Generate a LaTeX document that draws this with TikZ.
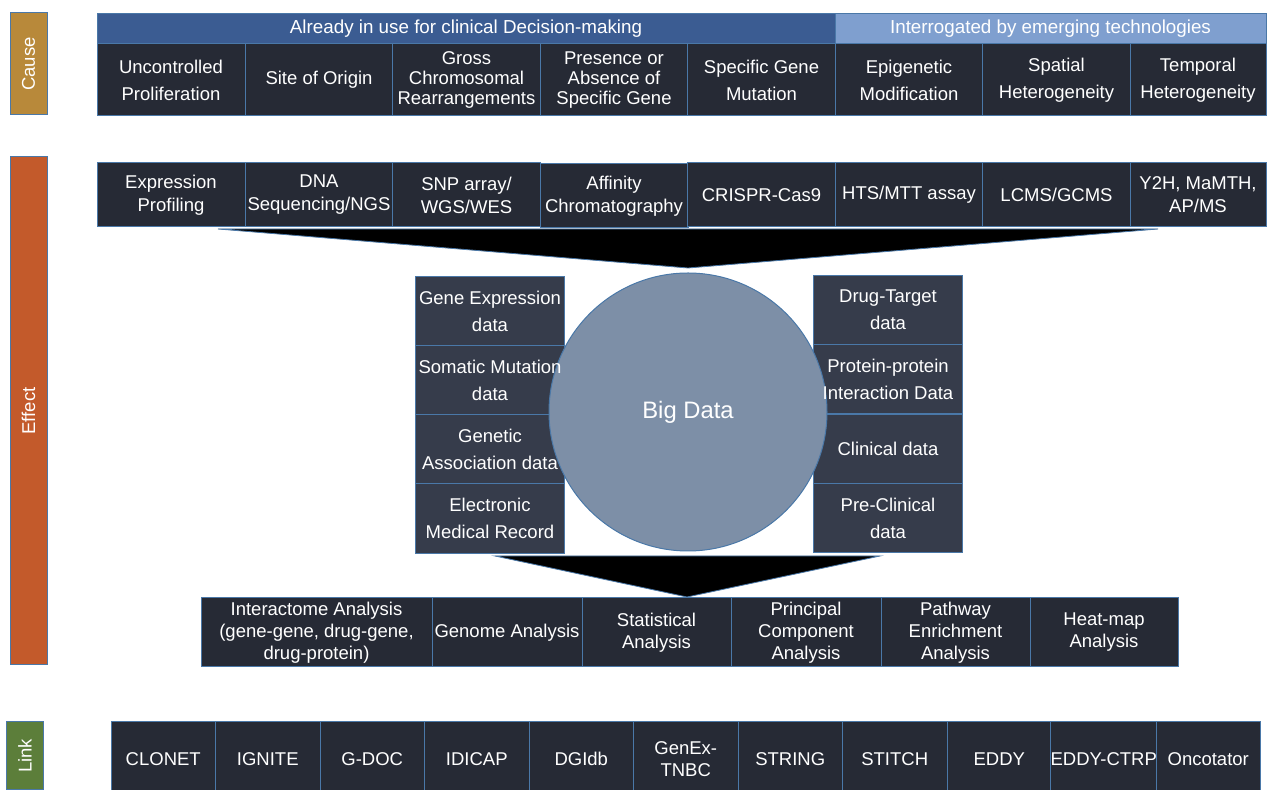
\documentclass[tikz,border=0pt]{standalone}
\usepackage{fontspec}
\setmainfont{Liberation Sans}
\usepackage{tikz}
\definecolor{boxdark}{HTML}{262A35}
\definecolor{boxmid}{HTML}{363C4B}
\definecolor{edgeblue}{HTML}{4A78A8}
\definecolor{hdrdark}{HTML}{3B5C92}
\definecolor{hdrlight}{HTML}{7F9FCF}
\definecolor{bigdata}{HTML}{7D8FA7}
\definecolor{causecol}{HTML}{B8893A}
\definecolor{effectcol}{HTML}{C35A2B}
\definecolor{linkcol}{HTML}{5C7E3A}
\pgfdeclarelayer{back}
\pgfdeclarelayer{mid}
\pgfsetlayers{back,mid,main}
\tikzset{
  side/.style={
    rotate=90, draw=edgeblue, line width=0.5pt, text=white,
    inner sep=0pt, minimum height=18.5pt,
    font=\fontsize{9.25}{11}\selectfont
  },
  hdr/.style={
    draw=edgeblue, line width=0.5pt, text=white, inner sep=0pt,
    minimum height=15pt, font=\fontsize{9.4}{11}\selectfont
  },
  cell/.style={
    draw=edgeblue, line width=0.5pt, fill=boxdark, text=white,
    align=center, inner sep=0pt, minimum width=74pt,
    font=\fontsize{9.25}{13.5}\selectfont
  },
  tight/.style={font=\fontsize{9.25}{10}\selectfont},
  effcell/.style={cell, minimum height=32pt, font=\fontsize{9.25}{11.5}\selectfont},
  datatext/.style={
    text=white, align=center, inner sep=0pt,
    minimum width=74pt, minimum height=34.5pt,
    font=\fontsize{9.25}{13.5}\selectfont
  },
  anacell/.style={cell, minimum height=34.5pt, font=\fontsize{9.25}{11}\selectfont},
  linkcell/.style={cell, minimum width=52.25pt, minimum height=37pt, font=\fontsize{9.25}{11}\selectfont},
  bigcirc/.style={
    circle, draw=edgeblue, line width=0.5pt, fill=bigdata, text=white,
    inner sep=0pt, minimum size=139pt, font=\fontsize{11.9}{14}\selectfont
  }
}
\begin{document}
\begin{tikzpicture}[x=0.5pt,y=-0.5pt]
  \useasboundingbox (0,0) rectangle (1271,790);

  % side labels
  \node[side, fill=causecol, minimum width=51pt] (cause) at (28.5,64) {Cause};
  \node[side, fill=effectcol, minimum width=254pt] (effect) at (28.5,411) {Effect};
  \node[side, fill=linkcol, minimum width=34pt] (link) at (25,756) {Link};

  % cause
  \node[hdr, fill=hdrdark, minimum width=369pt] (inuse) at (466,29) {Already in use for clinical Decision-making};
  \node[hdr, fill=hdrlight, minimum width=215.5pt] (emerging) at (1050.5,29) {Interrogated by emerging technologies};
  \node[cell, minimum height=36pt] (c1) at (171,80) {Uncontrolled\\Proliferation};
  \node[cell, minimum height=36pt] (c2) at (319,80) {Site of Origin};
  \node[cell, tight, minimum height=36pt] (c3) at (466.5,80) {Gross\\Chromosomal\\Rearrangements};
  \node[cell, tight, minimum height=36pt] (c4) at (614,80) {Presence or\\Absence of\\Specific Gene};
  \node[cell, minimum height=36pt] (c5) at (761.5,80) {Specific Gene\\Mutation};
  \node[cell, minimum height=36pt] (c6) at (909,80) {Epigenetic\\Modification};
  \node[cell, minimum height=36pt] (c7) at (1056.5,80) {Spatial\\Heterogeneity};
  \node[cell, minimum height=36pt, minimum width=68pt] (c8) at (1198,80) {Temporal\\Heterogeneity};

  % effect: techniques
  \node[effcell] (e1) at (171,195) {Expression\\Profiling};
  \node[effcell] (e2) at (319,195) {DNA\\Sequencing/NGS};
  \node[effcell] (e3) at (466.5,195) {SNP array/\\WGS/WES};
  \node[effcell] (e4) at (614,196) {Affinity\\Chromatography};
  \node[effcell] (e5) at (761.5,195) {CRISPR-Cas9};
  \node[effcell] (e6) at (909,195) {HTS/MTT assay};
  \node[effcell] (e7) at (1056.5,195) {LCMS/GCMS};
  \node[effcell, minimum width=68pt] (e8) at (1198,195) {Y2H, MaMTH,\\AP/MS};

  \coordinate (f1l) at (218,229);
  \coordinate (f1r) at (1158,229);
  \coordinate (f1b) at (688,268);
  \filldraw[fill=black, draw=edgeblue, line width=0.4pt] (f1l) -- (f1r) -- (f1b) -- cycle;

  % data around the circle
  \node[datatext] (d1) at (490,311.5) {Gene Expression\\data};
  \node[datatext] (d2) at (490,380.5) {Somatic Mutation\\data};
  \node[datatext] (d3) at (490,449.5) {Genetic\\Association data};
  \node[datatext] (d4) at (490,518.5) {Electronic\\Medical Record};
  \node[datatext] (d5) at (888,310) {Drug-Target\\data};
  \node[datatext] (d6) at (888,379) {Protein-protein\\Interaction Data};
  \node[datatext] (d7) at (888,449) {Clinical data};
  \node[datatext] (d8) at (888,518) {Pre-Clinical\\data};
  \begin{pgfonlayer}{back}
    \foreach \n in {d1,d2,d3,d4,d5,d6,d7,d8}
      \filldraw[fill=boxmid, draw=edgeblue, line width=0.5pt] (\n.south west) rectangle (\n.north east);
  \end{pgfonlayer}
  \begin{pgfonlayer}{mid}
    \node[bigcirc] (big) at (688,412) {Big Data};
  \end{pgfonlayer}

  \coordinate (f2l) at (495,556);
  \coordinate (f2r) at (880,556);
  \coordinate (f2b) at (687,597);
  \filldraw[fill=black, draw=edgeblue, line width=0.4pt] (f2l) -- (f2r) -- (f2b) -- cycle;

  % analysis
  \node[anacell, minimum width=115.5pt] (a1) at (316.5,632.5) {Interactome Analysis\\(gene-gene, drug-gene,\\drug-protein)};
  \node[anacell, minimum width=75pt] (a2) at (507,632.5) {Genome Analysis};
  \node[anacell, minimum width=74.5pt] (a3) at (656.5,632.5) {Statistical\\Analysis};
  \node[anacell, minimum width=75pt] (a4) at (806,632.5) {Principal\\Component\\Analysis};
  \node[anacell, minimum width=74.5pt] (a5) at (955.5,632.5) {Pathway\\Enrichment\\Analysis};
  \node[anacell, minimum width=74pt] (a6) at (1104,632.5) {Heat-map\\Analysis};

  % link: tools
  \foreach \tool [count=\i] in {CLONET, IGNITE, G-DOC, IDICAP, DGIdb, {GenEx-\\TNBC}, STRING, STITCH, EDDY, EDDY-CTRP, Oncotator}
    \node[linkcell] (l\i) at ({111+(\i-0.5)*104.5},759) {\tool};
\end{tikzpicture}
\end{document}
